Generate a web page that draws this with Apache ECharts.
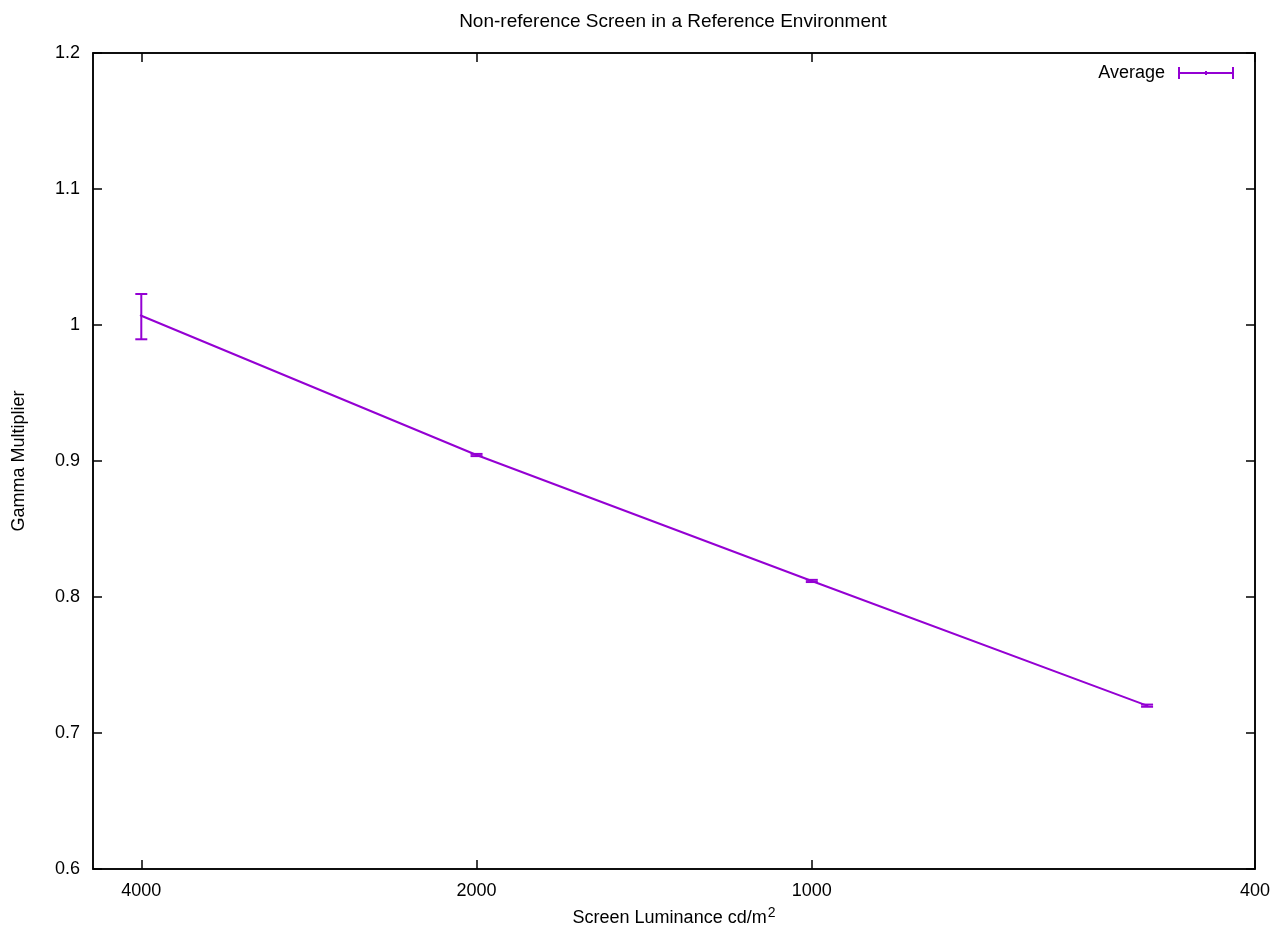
<!DOCTYPE html>
<html>
<head>
<meta charset="utf-8">
<script src="https://cdn.jsdelivr.net/npm/echarts@6/dist/echarts.min.js"></script>
<style>html,body{margin:0;padding:0;background:#fff;overflow:hidden}#c{width:1280px;height:926px}</style>
</head>
<body>
<div id="c"></div>
<script>
// Data
const luminance = [4000, 2000, 1000, 500];
const gamma = [1.0068, 0.9044, 0.8118, 0.7201];
const gammaLow = [0.9895, 0.9036, 0.8110, 0.7193];
const gammaHigh = [1.0228, 0.9052, 0.8126, 0.7209];
const xTicks = [4000, 2000, 1000, 400];
const yMin = 0.6, yMax = 1.2, yStep = 0.1;

const COLOR = '#9400d3';
const FONT = 'Liberation Sans, Arial, sans-serif';
const FS = 18;

const lineData = luminance.map((x, i) => [x, gamma[i]]);
const errData = luminance.map((x, i) => [x, gammaLow[i], gammaHigh[i]]);

const chart = echarts.init(document.getElementById('c'), null, {renderer: 'canvas', width: 1280, height: 926});

const xCommon = {
  type: 'log', logBase: 10, inverse: true, min: 400, max: 4420,
  splitLine: {show: false}, minorTick: {show: false}
};
const yCommon = {
  type: 'value', min: yMin, max: yMax, interval: yStep, splitLine: {show: false}
};
const axisLine = {show: true, lineStyle: {color: '#000', width: 1.5}};

chart.setOption({
  animation: false,
  backgroundColor: '#fff',
  title: {
    text: 'Non-reference Screen in a Reference Environment',
    left: 668, top: 7, textAlign: 'center',
    textStyle: {fontFamily: FONT, fontSize: 19, fontWeight: 'normal', color: '#000'}
  },
  legend: {
    right: 41, top: 59, align: 'right',
    itemWidth: 56, itemHeight: 12,
    textStyle: {fontFamily: FONT, fontSize: FS, color: '#000', padding: [0, 8, 0, 0]},
    data: [{
      name: 'Average',
      icon: 'path://M0,0h2v12h-2zM54,0h2v12h-2zM0,5h56v2h-56zM27,4h2v4h-2z',
      itemStyle: {color: COLOR}
    }]
  },
  grid: {left: 93, right: 25, top: 53, bottom: 57, containLabel: false, outerBoundsMode: 'none',
         show: true, borderColor: '#000', borderWidth: 1.5},
  xAxis: [
    Object.assign({}, xCommon, {
      position: 'bottom',
      name: '{a|Screen Luminance cd/m}{s|2}',
      nameLocation: 'middle', nameGap: 37,
      nameTextStyle: {
        fontFamily: FONT, fontSize: FS, color: '#000',
        rich: {
          a: {fontFamily: FONT, fontSize: FS, color: '#000'},
          s: {fontFamily: FONT, fontSize: 14, color: '#000', verticalAlign: 'bottom', padding: [0, 0, 10, 1]}
        }
      },
      axisLine: axisLine,
      axisTick: {show: true, inside: true, length: 9, customValues: xTicks, lineStyle: {color: '#000', width: 1.5}},
      axisLabel: {show: true, customValues: xTicks, margin: 13, fontFamily: FONT, fontSize: FS, color: '#000',
        formatter: v => String(Math.round(v))}
    }),
    Object.assign({}, xCommon, {
      position: 'top',
      axisLine: axisLine,
      axisTick: {show: true, inside: true, length: 9, customValues: xTicks, lineStyle: {color: '#000', width: 1.5}},
      axisLabel: {show: false}
    })
  ],
  yAxis: [
    Object.assign({}, yCommon, {
      position: 'left',
      name: 'Gamma Multiplier', nameLocation: 'middle', nameGap: 65, nameRotate: 90,
      nameTextStyle: {fontFamily: FONT, fontSize: FS, color: '#000'},
      axisLine: axisLine,
      axisTick: {show: true, inside: true, length: 9, lineStyle: {color: '#000', width: 1.5}},
      axisLabel: {show: true, margin: 13, fontFamily: FONT, fontSize: FS, color: '#000'}
    }),
    Object.assign({}, yCommon, {
      position: 'right',
      axisLine: axisLine,
      axisTick: {show: true, inside: true, length: 9, lineStyle: {color: '#000', width: 1.5}},
      axisLabel: {show: false}
    })
  ],
  series: [
    {
      name: 'Average', type: 'line', data: lineData,
      xAxisIndex: 0, yAxisIndex: 0,
      symbol: 'none', lineStyle: {color: COLOR, width: 2}, itemStyle: {color: COLOR},
      z: 3
    },
    {
      name: 'Average', type: 'custom', data: errData,
      xAxisIndex: 0, yAxisIndex: 0,
      encode: {x: 0, y: [1, 2]},
      renderItem: function (params, api) {
        const x = api.value(0);
        const lo = api.coord([x, api.value(1)]);
        const hi = api.coord([x, api.value(2)]);
        const mid = api.coord([x, gamma[params.dataIndex]]);
        const w = 6;
        const st = {stroke: COLOR, lineWidth: 2};
        return {
          type: 'group',
          children: [
            {type: 'line', shape: {x1: lo[0], y1: lo[1], x2: hi[0], y2: hi[1]}, style: st},
            {type: 'line', shape: {x1: lo[0] - w, y1: lo[1], x2: lo[0] + w, y2: lo[1]}, style: st},
            {type: 'line', shape: {x1: hi[0] - w, y1: hi[1], x2: hi[0] + w, y2: hi[1]}, style: st},
            {type: 'line', shape: {x1: mid[0] - 1, y1: mid[1] - 1, x2: mid[0] + 1, y2: mid[1] + 1}, style: st}
          ]
        };
      },
      z: 4
    }
  ]
});
</script>
</body>
</html>
